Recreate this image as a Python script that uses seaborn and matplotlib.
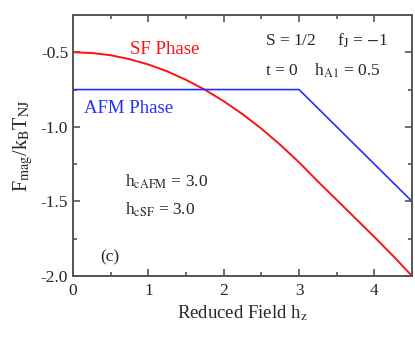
import numpy as np
import pandas as pd
import matplotlib
matplotlib.use("Agg")
import matplotlib.pyplot as plt
import seaborn as sns

# values
h_sf = [0.0, 0.25, 0.5, 0.75, 1.0, 1.25, 1.5, 1.75, 2.0, 2.25, 2.5, 2.75,
        3.0, 3.25, 3.5, 3.75, 4.0, 4.25, 4.5]
f_sf = [-0.500, -0.505, -0.520, -0.546, -0.582, -0.628, -0.685, -0.751, -0.828,
        -0.915, -1.012, -1.120, -1.238, -1.366, -1.490, -1.614, -1.738, -1.866, -2.0]
h_afm = [0.0, 3.0, 4.5]
f_afm = [-0.75, -0.75, -1.5]

sns.set_style("ticks")
plt.rcParams['font.family'] = ['Liberation Serif', 'DejaVu Serif']
plt.rcParams['mathtext.fontset'] = 'stix'

sf = pd.DataFrame({"h": h_sf, "F": f_sf})
afm = pd.DataFrame({"h": h_afm, "F": f_afm})

fig = plt.figure(figsize=(4.15, 3.4), dpi=100)
ax = fig.add_axes([0.176, 0.188, 0.817, 0.768])
sns.lineplot(data=sf, x="h", y="F", color="#ff1010", lw=1.4, ax=ax)
sns.lineplot(data=afm, x="h", y="F", color="#2030ff", lw=1.2, ax=ax)

ax.set_xlim(0, 4.5)
ax.set_ylim(-2.0, -0.25)
ax.set_xticks([0, 1, 2, 3, 4])
ax.set_xticks(np.arange(0.5, 4.5, 1.0), minor=True)
ax.set_yticks([-2.0, -1.5, -1.0, -0.5])
ax.set_yticks([-1.75, -1.25, -0.75], minor=True)
ax.set_yticklabels(["-2.0", "-1.5", "-1.0", "-0.5"])
ax.tick_params(which="both", direction="in", top=True, right=True,
               labelsize=12.5, color="#555555", width=1.2)
ax.tick_params(which="major", length=5)
ax.tick_params(which="minor", length=3)
ax.tick_params(axis="x", pad=5)
for s in ax.spines.values():
    s.set_color("#555555")
    s.set_linewidth(1.4)

ax.set_xlabel(r"Reduced Field h$_{\rm z}$", fontsize=13.5, labelpad=3)
ax.set_ylabel(r"F$_{\rm mag}$/k$_{\rm B}$T$_{\rm NJ}$", fontsize=14.5, labelpad=4)

ax.text(0.76, -0.51, "SF Phase", color="#ff1010", fontsize=13.5)
ax.text(0.15, -0.91, "AFM Phase", color="#2030ff", fontsize=13.5)
ax.text(2.55, -0.453, r"S = 1/2     f$_{\rm J}$ = $-$1", fontsize=12.5)
ax.text(2.55, -0.655, r"t = 0    h$_{\rm A1}$ = 0.5", fontsize=12.5)
ax.text(0.69, -1.40, r"h$_{\rm cAFM}$ = 3.0", fontsize=12.5)
ax.text(0.69, -1.585, r"h$_{\rm cSF}$ = 3.0", fontsize=12.5)
ax.text(0.36, -1.90, "(c)", fontsize=12.5)

fig.savefig("out.png", dpi=100)
